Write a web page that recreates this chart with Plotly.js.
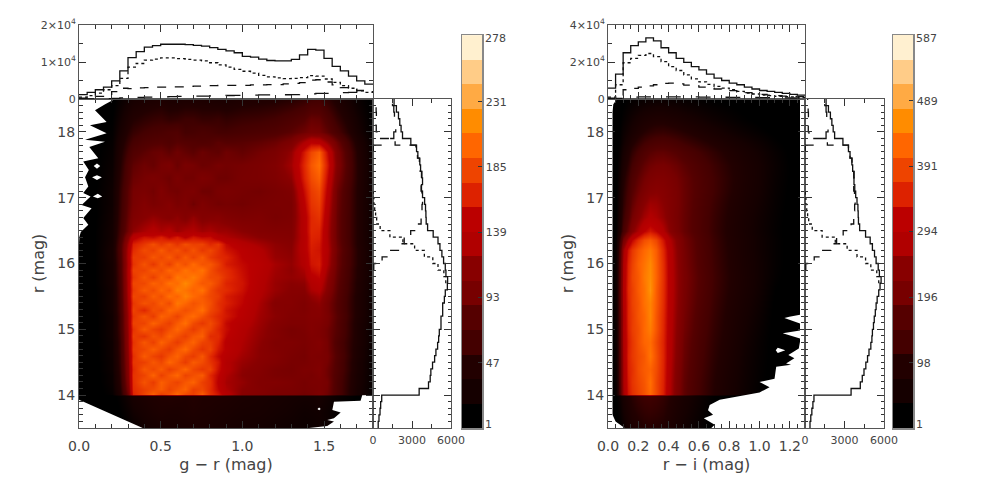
<!DOCTYPE html>
<html>
<head>
<meta charset="utf-8">
<script src="https://cdn.plot.ly/plotly-3.0.1.min.js"></script>
<style>
  html, body { margin: 0; padding: 0; background: #fff; }
  #plot { width: 981px; height: 492px; }
</style>
</head>
<body>
<div id="plot"></div>
<script>
// magnitude rows of the density maps (bottom to top), the pair around 14 keeps the cut sharp
const grRows = [13.5,13.75,13.98,14.02,14.1,14.2,14.3,14.4,14.5,14.6,14.7,14.8,14.9,15,15.1,15.2,15.3,15.4,15.5,15.6,15.7,15.8,15.9,16,16.1,16.2,16.3,16.4,16.5,16.7,16.9,17.1,17.3,17.5,17.7,17.85,18,18.2,18.5];
const riRows = [13.5,13.75,13.98,14.02,14.2,14.4,14.6,14.8,15,15.2,15.4,15.6,15.8,16,16.2,16.35,16.5,16.7,16.9,17.1,17.3,17.5,17.7,17.85,18,18.2,18.5];

const grColumns = [0,.1,.2,.25,.3,.33,.4,.45,.5,.55,.6,.65,.7,.75,.8,.85,.9,1,1.1,1.2,1.3,1.38,1.42,1.47,1.52,1.58,1.7,1.8];
const grCounts = [
  [1,1,2,6,12,16,24,27,30,31,32,33,34,34,33,32,30,27,26,24,22,20,20,22,20,14,6,2],
  [1,2,4,10,18,24,30,35,38,36,36,38,40,38,37,35,34,31,30,27,25,22,23,24,20,14,7,3],
  [2,3,6,14,24,30,36,40,42,44,42,40,44,40,40,39,38,34,32,30,27,26,26,28,24,18,9,4],
  [3,5,14,40,92,166,182,196,180,188,200,186,180,194,172,158,138,112,106,100,98,94,96,102,92,70,30,12],
  [3,5,16,44,100,170,180,186,194,182,190,198,180,184,170,150,130,114,108,102,100,96,98,100,94,70,30,13],
  [3,6,18,48,106,172,190,178,196,188,182,192,198,180,172,146,126,118,106,106,102,96,100,100,96,70,32,14],
  [3,6,18,50,110,174,182,198,180,192,200,182,188,194,168,150,130,114,108,100,98,100,98,104,92,72,32,14],
  [3,7,20,52,112,170,192,184,194,180,188,200,184,176,182,156,136,116,110,100,96,102,102,106,92,74,34,14],
  [3,7,20,54,114,176,180,192,184,200,190,178,194,186,174,160,134,120,112,106,98,98,102,104,96,74,34,14],
  [3,7,22,54,116,172,194,182,176,190,198,184,178,192,170,152,140,124,114,108,100,96,104,102,98,76,36,15],
  [3,7,22,56,118,178,184,196,186,178,192,202,186,174,182,160,146,128,114,106,102,98,104,106,96,74,36,15],
  [3,8,22,56,120,174,192,180,198,188,178,190,198,182,178,166,144,130,116,104,104,100,104,108,96,72,38,16],
  [3,8,24,58,120,180,174,190,184,198,188,180,192,196,170,170,150,132,118,108,100,100,106,104,94,76,38,16],
  [4,8,24,60,122,174,194,182,176,188,200,190,178,190,182,166,154,134,120,108,98,102,108,104,94,78,38,16],
  [4,8,24,60,124,182,182,198,188,180,194,204,186,176,186,172,152,138,122,110,104,104,108,106,98,78,38,17],
  [4,8,24,60,124,176,190,178,198,192,182,196,202,190,178,168,160,144,124,114,106,106,110,110,100,80,40,18],
  [4,8,26,62,126,182,168,188,184,200,196,188,194,204,184,174,158,146,126,112,108,104,110,112,98,78,40,18],
  [4,9,26,62,128,176,190,184,196,186,208,200,190,196,188,172,164,150,128,110,110,104,112,116,98,78,40,18],
  [4,9,26,64,130,184,180,196,188,204,198,212,202,194,184,178,162,152,132,116,110,108,118,124,104,80,40,18],
  [4,9,26,64,132,178,194,186,200,192,212,206,198,206,186,174,170,156,134,120,112,112,128,134,110,82,42,18],
  [4,10,28,66,132,184,184,198,192,206,202,216,204,192,194,182,166,158,136,120,114,116,134,142,114,84,42,19],
  [4,10,28,66,134,176,192,180,196,188,208,202,210,198,186,184,172,156,138,122,118,122,144,150,118,86,44,20],
  [4,10,28,68,134,182,182,194,186,200,194,206,198,206,188,176,170,154,140,124,116,128,152,158,124,88,44,20],
  [4,10,28,68,132,174,190,176,192,180,198,188,202,190,192,180,162,152,142,126,118,134,158,162,130,90,46,20],
  [5,10,30,70,134,178,178,192,184,194,180,194,182,194,178,170,166,148,138,120,116,136,160,160,132,90,46,20],
  [5,10,30,72,132,170,186,180,194,182,190,178,190,176,184,172,158,146,134,118,114,140,162,158,134,92,46,20],
  [5,10,28,70,126,164,176,188,176,186,174,188,180,182,168,176,152,136,126,116,112,140,164,160,132,90,44,20],
  [5,10,26,64,112,142,158,154,164,150,162,146,160,152,154,136,130,122,114,110,108,138,166,164,130,88,44,18],
  [5,10,26,60,94,116,128,136,128,134,122,130,132,124,128,122,122,114,108,106,106,140,168,166,130,88,44,18],
  [5,9,24,56,88,104,112,118,114,110,116,108,118,108,110,112,106,102,104,98,102,140,168,174,134,88,44,18],
  [5,9,22,54,84,98,108,100,104,110,100,104,92,104,98,94,96,94,98,100,100,146,174,180,140,90,44,18],
  [5,9,22,52,82,96,100,94,106,96,94,100,102,92,92,98,100,96,94,98,104,154,178,186,146,92,44,18],
  [5,8,20,48,76,90,96,100,96,92,100,94,94,102,98,92,92,98,100,104,116,164,186,196,154,100,46,16],
  [4,8,18,44,72,84,92,88,96,100,90,98,96,90,92,96,94,96,100,106,124,168,192,204,162,106,46,16],
  [4,7,16,40,62,74,82,88,90,84,92,86,82,90,86,84,92,86,94,100,118,160,184,196,154,102,44,14],
  [4,6,14,36,54,64,72,76,78,74,80,78,76,74,76,82,78,80,84,90,102,130,146,142,120,90,38,14],
  [3,5,12,30,46,54,62,66,68,72,74,62,64,68,66,62,62,66,70,74,82,92,98,96,84,66,30,10],
  [3,4,10,24,38,44,50,54,56,52,54,58,58,54,54,56,52,56,58,62,70,78,88,86,72,54,26,8],
  [2,3,6,16,24,30,34,36,38,34,34,36,36,36,36,34,34,38,40,42,46,52,58,60,50,38,18,6]
];

const riColumns = [0,0.02,0.05,0.08,0.1,0.13,0.16,0.2,0.24,0.28,0.32,0.36,0.4,0.45,0.5,0.6,0.7,0.8,0.9,1.0,1.1,1.2,1.3];
const riCounts = [
  [1,3,10,24,38,58,72,84,92,94,92,88,76,62,48,30,12,3,1,1,1,1,1],
  [1,5,16,34,52,72,88,100,108,112,108,100,88,72,58,36,16,5,1,1,1,1,1],
  [1,6,20,42,62,84,100,114,122,124,120,110,96,80,64,42,20,8,2,1,1,1,1],
  [2,8,40,150,255,335,362,382,400,424,390,345,282,222,176,128,92,64,42,22,9,3,1],
  [2,8,42,156,262,340,368,388,404,430,388,348,284,224,178,130,94,66,44,24,10,3,1],
  [2,8,44,158,262,346,364,394,410,418,394,350,288,228,182,134,98,70,46,26,11,3,1],
  [2,8,44,160,266,348,372,392,406,436,398,352,292,234,186,138,102,74,48,28,12,4,1],
  [2,8,46,162,270,344,370,398,420,428,392,350,294,238,190,142,106,78,52,30,12,4,1],
  [2,8,46,164,272,350,378,396,424,444,404,354,296,242,196,148,110,82,56,34,13,4,1],
  [2,8,48,166,270,354,376,404,422,452,404,356,298,246,200,152,114,84,60,38,14,4,1],
  [2,8,48,168,276,352,382,402,432,450,410,360,300,250,204,158,118,88,64,42,16,5,2],
  [2,8,48,170,278,358,380,410,432,466,412,362,302,252,206,162,122,92,68,46,20,6,2],
  [2,8,46,166,274,354,388,408,440,460,418,364,302,252,208,164,124,94,70,48,26,10,2],
  [2,7,44,160,270,350,382,414,434,456,416,362,300,250,205,160,122,92,68,48,28,12,3],
  [2,7,40,148,254,334,372,402,424,440,412,354,296,246,202,158,120,90,66,46,28,12,3],
  [2,6,34,120,200,270,318,362,396,410,388,334,282,238,198,156,118,88,66,46,28,12,3],
  [2,5,26,84,136,190,232,272,312,336,316,280,240,210,184,150,114,86,64,44,26,12,3],
  [2,5,22,72,116,160,200,232,262,280,270,250,226,206,184,150,116,88,66,46,28,12,4],
  [2,4,18,64,104,144,180,212,238,260,256,240,224,208,186,152,120,92,70,50,30,14,5],
  [2,4,16,58,96,132,164,192,214,232,238,232,222,208,186,156,126,98,74,54,32,16,5],
  [2,4,14,52,86,120,150,176,198,214,222,222,214,202,184,154,126,100,76,56,34,18,6],
  [1,3,12,44,72,102,130,156,178,194,202,204,198,188,172,146,120,96,74,56,36,18,6],
  [1,3,10,36,58,84,108,132,152,168,176,178,172,164,150,128,106,84,66,50,32,16,5],
  [1,3,8,28,46,66,86,106,124,136,144,146,142,134,122,104,86,68,54,40,24,12,4],
  [1,2,7,24,38,52,66,82,96,106,112,114,110,104,96,80,64,50,38,26,15,7,2],
  [1,2,5,18,28,40,50,62,72,78,82,82,78,74,66,54,42,32,22,14,8,3,1],
  [1,1,3,10,16,22,26,30,34,36,38,38,36,34,30,24,18,14,10,6,3,1,1]
];

// empty parts of the maps, null starts a new outline
const grEmptyX = [0,.22,.16,.098,.169,.067,.169,.037,.159,.063,.118,.026,.06,.037,.057,.026,.071,.016,.077,.026,.057,.011,.003,0,null,
  .09,.11,.13,.11,null, .08,.11,.14,.11,null, .085,.115,.142,.115,null, 0,.39,0,null,
  1.8,1.734,1.724,1.561,1.551,1.602,1.561,1.52,1.561,1.52,1.408,1.8,null, 1.46,1.47,1.48,1.47];
const grEmptyY = [18.5,18.5,18.42,18.33,18.15,18.1,17.98,17.88,17.85,17.77,17.6,17.55,17.42,17.31,17.17,17.07,17.02,16.89,16.84,16.69,16.59,16.48,16.41,16.3,null,
  17.48,17.52,17.48,17.44,null, 17.31,17.34,17.31,17.27,null, 17.02,17.06,17.02,16.99,null, 13.93,13.5,13.5,null,
  14,13.999,13.915,13.9,13.775,13.735,13.65,13.62,13.6,13.53,13.5,13.5,null, 13.79,13.81,13.79,13.77];

const riEmptyX = [0,.06,.035,.03,.03,.05,.11,0,null,
  1.3,.682,.704,.632,.693,.66,.671,.737,1.0,1.066,1.0,1.099,1.11,1.208,1.175,1.23,1.19,1.259,1.267,1.267,1.153,1.267,1.267,1.219,1.164,1.197,1.267,1.267,1.3,null,
  1.107,1.12,1.17,1.12];
const riEmptyY = [18.5,18.5,18.42,18.3,13.7,13.6,13.5,13.5,null,
  13.5,13.5,13.55,13.65,13.7,13.77,13.85,13.93,14.04,14.12,14.2,14.25,14.43,14.46,14.48,14.56,14.61,14.71,14.81,14.86,14.94,14.98,15.09,15.13,15.17,15.19,15.22,18.5,18.5,null,
  14.68,14.72,14.68,14.64];

// histograms above the maps, edges of the bins
const grBins = [0,.05,.1,.15,.2,.25,.3,.35,.4,.45,.5,.55,.6,.65,.7,.75,.8,.85,.9,.95,1,1.05,1.1,1.15,1.2,1.25,1.3,1.35,1.4,1.45,1.5,1.55,1.6,1.65,1.7,1.75,1.8];
const grTotal = [1200,1800,2500,3200,4900,7600,11200,12800,14000,14400,14800,14800,14800,14700,14500,14300,13900,13400,13000,12500,11500,11300,10800,10400,10300,10300,10700,11900,13400,13200,11000,8800,7600,6200,4900,4000];
const grBright = [500,900,1600,2500,3600,5600,8600,9600,10500,10800,11100,11100,10900,10700,10500,10300,9800,9200,8600,8000,7500,7000,6400,6000,5700,5500,5600,5800,6300,6200,5400,4500,3600,2900,2200,1800];
const grMiddle = [200,400,700,1100,2000,2900,2800,3000,3100,3200,3200,3300,3300,3400,3500,3600,3600,3700,3700,3700,3700,3800,3800,3900,3900,4100,4200,4400,5100,5200,4600,3800,3100,2700,2300,2000];
const grFaint = [50,50,100,100,150,300,450,450,500,550,600,650,700,700,750,800,850,900,950,1000,1050,1050,1100,1100,1100,1150,1200,1300,1400,1500,1500,1600,1700,1800,1900,2000];

const riBins = [0,.05,.1,.15,.2,.25,.3,.35,.4,.45,.5,.55,.6,.65,.7,.75,.8,.85,.9,.95,1,1.05,1.1,1.15,1.2,1.25,1.3];
const riTotal = [5900,13400,25000,28800,30900,33000,31400,27700,25000,22000,19800,17500,15700,13400,11300,10000,8600,7700,6400,5400,4600,4100,3600,3000,2500,2100];
const riBright = [1000,7700,19600,22000,23600,24600,22900,20200,17500,15400,13000,10900,9300,7900,6800,5900,5000,4100,3200,2700,2100,1800,1400,1250,1100,900];
const riMiddle = [400,1800,5000,5700,6400,7100,7700,8400,8600,8200,7500,7100,6400,5900,5400,5000,4500,3900,3400,2900,2500,2100,1800,1600,1400,1250];
const riFaint = [100,300,700,1000,1100,1200,1200,1200,1200,1100,1100,1100,1000,1000,1000,950,900,850,800,800,750,700,650,600,550,500];

// histograms beside the maps
const magBins = [13.5,13.6,13.7,13.8,13.9,14,14.1,14.2,14.3,14.4,14.5,14.6,14.7,14.8,14.9,15,15.1,15.2,15.3,15.4,15.5,15.6,15.7,15.8,15.9,16,16.1,16.2,16.3,16.4,16.5,16.6,16.7,16.8,16.9,17,17.1,17.2,17.3,17.4,17.5,17.6,17.7,17.8,17.9,18,18.1,18.2,18.3,18.4,18.5];
const grMagTotal = [400,460,540,590,670,3550,4270,4400,4450,4580,4740,4840,4970,5050,5100,5230,5230,5360,5360,5490,5560,5720,5740,5610,5560,5430,5300,5150,5000,4630,4200,4090,4070,4040,3970,3810,3730,3810,3760,3660,3600,3450,3350,2910,2270,2160,2060,1960,1800,1620];
const riMagTotal = [380,440,520,600,680,3500,4200,4350,4480,4620,4750,4860,5000,5080,5120,5200,5260,5340,5400,5480,5600,5700,5780,5650,5560,5400,5280,5120,4950,4600,4150,4060,4040,4020,3950,3850,3780,3720,3700,3620,3560,3420,3300,2880,2250,2140,2040,1930,1780,1600];
const brightMags = [15.7,15.8,15.9,16,16.1,16.2,16.3,16.4,16.5,16.6,16.7,16.8,16.9,17,17.1];
const brightCounts = [5600,5450,5000,4600,3950,3200,2300,1300,550,280,200,130,70,20];
const middleMags = [15.9,16,16.1,16.2,16.3,16.4,16.5,16.6,16.7,16.8,16.9,17,17.1,17.2,17.3,17.4,17.5,17.6,17.7,17.8,17.9,18,18.1,18.2,18.3,18.4,18.5];
const middleCounts = [60,700,1290,1960,2400,2900,3500,3700,3760,3770,3810,3760,3700,3780,3730,3630,3570,3420,3300,1700,300,250,220,260,240,200];
const faintMags = [17.7,17.8,17.9,18,18.1,18.2,18.3,18.4,18.5];
const faintCounts = [20,1100,1600,1750,1800,1650,1600,1500];

// colour bars
const grLevels = [9.7,27,44.3,61.6,78.9,96.2,113.5,130.8,148.1,165.4,182.7,200,217.3,234.6,251.9,269.2];
const riLevels = [19.3,55.9,92.6,129.2,165.8,202.4,239.1,275.7,312.3,348.9,385.6,422.2,458.8,495.4,532.1,568.7];
const bandColors = ['#000000','#150000','#220000','#440000','#550000','#770000','#880000','#b00000','#bb0000','#dd2200','#ee4400','#ff6600','#ff8c00','#ffaa44','#ffcc88','#fff0d0'];

const FONT = 'DejaVu Sans';
const TEXT = '#444';
const FRAME = '#555';

function heatScale() {
    const scale = [[0, bandColors[0]]];
    bandColors.forEach(function (c, i) {
        scale.push([(i + 0.5) / bandColors.length, c]);
    });
    scale.push([1, bandColors[bandColors.length - 1]]);
    return scale;
}

function xDom(left, right) {
    return [left / 981, right / 981];
}

function yDom(top, bottom) {
    return [1 - bottom / 492, 1 - top / 492];
}

function steps(bins, counts, dash, xa, ya, sideways) {
    const closed = counts.concat(counts[counts.length - 1]);
    return {
        type: 'scatter', mode: 'lines', xaxis: xa, yaxis: ya,
        x: sideways ? closed : bins,
        y: sideways ? bins : closed,
        line: {color: '#111', width: 1.3, dash: dash, shape: sideways ? 'vh' : 'hv'},
        hoverinfo: 'skip', showlegend: false
    };
}

function emptyPart(x, y, xa, ya) {
    return {
        type: 'scatter', mode: 'lines', xaxis: xa, yaxis: ya, x: x, y: y,
        fill: 'toself', fillcolor: '#fff', line: {width: 0},
        hoverinfo: 'skip', showlegend: false
    };
}

function axisStyle(extra) {
    return Object.assign({
        showgrid: false, zeroline: false, showline: true, mirror: 'ticks',
        linecolor: FRAME, linewidth: 1, ticks: 'inside', tickcolor: '#333', ticklen: 7, tickwidth: 1,
        tickfont: {family: FONT, size: 14, color: TEXT}
    }, extra);
}

// one panel: map, histogram above, histogram beside, colour bar
function addPanel(p, traces, layout) {
    const n = p.index;
    const xn = ['x' + (n + 1), 'x' + (n + 2), 'x' + (n + 3), 'x' + (n + 4)];
    const yn = ['y' + (n + 1), 'y' + (n + 2), 'y' + (n + 3), 'y' + (n + 4)];
    const key = function (s) { return s.replace('x', 'xaxis').replace('y', 'yaxis'); };

    traces.push({
        type: 'heatmap', x: p.columns, y: p.rows, z: p.counts, xaxis: xn[0], yaxis: yn[0],
        zmin: 1, zmax: p.max, zsmooth: 'best', colorscale: heatScale(), showscale: false, hoverinfo: 'skip'
    });
    traces.push(emptyPart(p.emptyX, p.emptyY, xn[0], yn[0]));

    traces.push(steps(p.bins, p.total, 'solid', xn[1], yn[1], false));
    traces.push(steps(p.bins, p.bright, 'dot', xn[1], yn[1], false));
    traces.push(steps(p.bins, p.middle, 'dash', xn[1], yn[1], false));
    traces.push(steps(p.bins, p.faint, 'longdash', xn[1], yn[1], false));

    traces.push(steps(magBins, p.magTotal, 'solid', xn[2], yn[2], true));
    traces.push(steps(brightMags, brightCounts, 'dot', xn[2], yn[2], true));
    traces.push(steps(middleMags, middleCounts, 'dash', xn[2], yn[2], true));
    traces.push(steps(faintMags, faintCounts, 'longdash', xn[2], yn[2], true));

    traces.push({
        type: 'heatmap', x: [0, 1], y: p.levels, z: p.levels.map(function (v) { return [v, v]; }),
        xaxis: xn[3], yaxis: yn[3], zmin: 1, zmax: p.max, colorscale: heatScale(), showscale: false, hoverinfo: 'skip'
    });

    layout[key(xn[0])] = axisStyle({
        domain: xDom(p.left, p.right), range: [0, p.xMax], anchor: yn[0], tickvals: p.xTicks,
        ticktext: p.xLabels, ticklabelstandoff: 5, minor: {ticks: 'inside', dtick: p.xMinor, ticklen: 4, tickcolor: '#333'},
        title: {text: p.xTitle, font: {family: FONT, size: 16, color: TEXT}, standoff: 6}
    });
    layout[key(yn[0])] = axisStyle({
        domain: yDom(99, 428), range: [13.5, 18.5], anchor: xn[0], tickvals: [14, 15, 16, 17, 18],
        minor: {ticks: 'inside', dtick: 0.1, ticklen: 4, tickcolor: '#333'},
        title: {text: 'r (mag)', font: {family: FONT, size: 16, color: TEXT}, standoff: 8}
    });

    layout[key(xn[1])] = axisStyle({
        domain: xDom(p.left, p.right), range: [0, p.xMax], anchor: yn[1], tickvals: p.xTicks,
        showticklabels: false, minor: {ticks: 'inside', dtick: p.xMinor, ticklen: 4, tickcolor: '#333'}
    });
    layout[key(yn[1])] = axisStyle({
        domain: yDom(25, 99), range: [0, p.topMax], anchor: xn[1], tickvals: p.topTicks, ticktext: p.topLabels,
        tickfont: {family: FONT, size: 11, color: TEXT},
        minor: {ticks: 'inside', dtick: p.topMax / 4, ticklen: 4, tickcolor: '#333'}
    });

    layout[key(xn[2])] = axisStyle({
        domain: xDom(p.right, p.sideRight), range: [0, 6000], anchor: yn[2], tickvals: [0, 3000, 6000],
        ticklabelstandoff: 2, tickfont: {family: FONT, size: 11, color: TEXT},
        minor: {ticks: 'inside', dtick: 1500, ticklen: 4, tickcolor: '#333'}
    });
    layout[key(yn[2])] = axisStyle({
        domain: yDom(99, 428), range: [13.5, 18.5], anchor: xn[2], tickvals: [14, 15, 16, 17, 18],
        showticklabels: false, minor: {ticks: 'inside', dtick: 0.1, ticklen: 3, tickcolor: '#333'}
    });

    layout[key(xn[3])] = {
        domain: xDom(p.barLeft, p.barLeft + 20), range: [-0.5, 1.5], anchor: yn[3],
        showgrid: false, zeroline: false, showticklabels: false, ticks: '',
        showline: true, mirror: true, linecolor: '#888', linewidth: 1.5
    };
    layout[key(yn[3])] = axisStyle({
        domain: yDom(35, 428), range: [1, p.max], anchor: xn[3], side: 'right', tickvals: p.barTicks,
        linecolor: '#888', linewidth: 1.5, mirror: true, ticklen: 4,
        tickfont: {family: FONT, size: 11, color: TEXT}
    });

    // the end labels of the bar sit just inside its ends
    layout.annotations.push(
        {xref: 'paper', yref: 'paper', x: (p.barLeft + 21) / 981, y: 1 - 38 / 492, text: String(p.max), showarrow: false,
            xanchor: 'left', yanchor: 'middle', font: {family: FONT, size: 11, color: TEXT}},
        {xref: 'paper', yref: 'paper', x: (p.barLeft + 21) / 981, y: 1 - 424 / 492, text: '1', showarrow: false,
            xanchor: 'left', yanchor: 'middle', font: {family: FONT, size: 11, color: TEXT}}
    );
}

const traces = [];
const layout = {
    width: 981, height: 492, margin: {l: 0, r: 0, t: 0, b: 0},
    paper_bgcolor: '#fff', plot_bgcolor: 'rgba(0,0,0,0)', showlegend: false, annotations: []
};

addPanel({
    index: 0, left: 79, right: 373, sideRight: 451, barLeft: 462, max: 278,
    columns: grColumns, rows: grRows, counts: grCounts, emptyX: grEmptyX, emptyY: grEmptyY,
    bins: grBins, total: grTotal, bright: grBright, middle: grMiddle, faint: grFaint, magTotal: grMagTotal,
    levels: grLevels, barTicks: [47, 93, 139, 185, 231],
    xMax: 1.8, xTicks: [0, 0.5, 1, 1.5], xLabels: ['0.0', '0.5', '1.0', '1.5'], xMinor: 0.1,
    xTitle: 'g − r (mag)', topMax: 20000, topTicks: [0, 10000, 20000],
    topLabels: ['0', '1×10<sup>4</sup>', '2×10<sup>4</sup>']
}, traces, layout);

addPanel({
    index: 4, left: 608, right: 805, sideRight: 884, barLeft: 893, max: 587,
    columns: riColumns, rows: riRows, counts: riCounts, emptyX: riEmptyX, emptyY: riEmptyY,
    bins: riBins, total: riTotal, bright: riBright, middle: riMiddle, faint: riFaint, magTotal: riMagTotal,
    levels: riLevels, barTicks: [98, 196, 294, 391, 489],
    xMax: 1.3, xTicks: [0, 0.2, 0.4, 0.6, 0.8, 1, 1.2], xLabels: ['0.0', '0.2', '0.4', '0.6', '0.8', '1.0', '1.2'], xMinor: 0.05,
    xTitle: 'r − i (mag)', topMax: 40000, topTicks: [0, 20000, 40000],
    topLabels: ['0', '2×10<sup>4</sup>', '4×10<sup>4</sup>']
}, traces, layout);

Plotly.newPlot('plot', traces, layout, {displayModeBar: false, staticPlot: true});
</script>
</body>
</html>
